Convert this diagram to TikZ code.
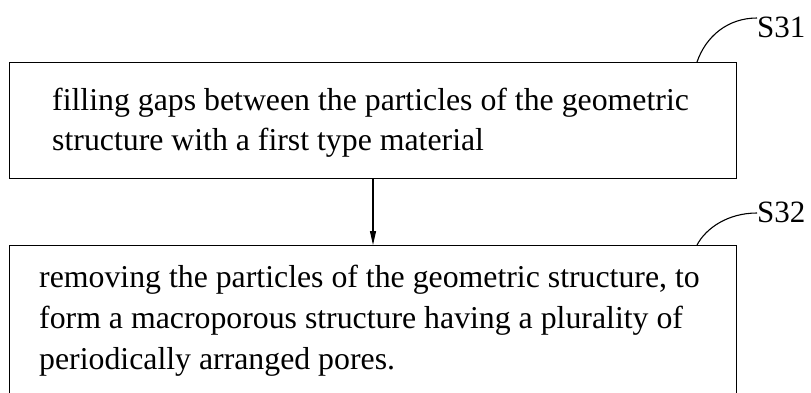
\documentclass[tikz,border=0pt]{standalone}
\usepackage{fontspec}
\setmainfont{Liberation Serif}
\usetikzlibrary{arrows.meta}
\begin{document}
\begin{tikzpicture}[x=1pt,y=-1pt,
  boxline/.style={draw=black,line width=1.2pt},
  txt/.style={anchor=base west,inner sep=0pt,font=\fontsize{31.8}{36}\selectfont},
  lbl/.style={anchor=base west,inner sep=0pt,font=\fontsize{31}{36}\selectfont},
  lead/.style={draw=black,line width=1.1pt}]
\useasboundingbox (0,0) rectangle (811,392);
\node[boxline,minimum width=727pt,minimum height=116pt,anchor=north west,inner sep=0pt] (b1) at (9,62) {};
\begin{scope}
\clip (0,0) rectangle (811,392);
\node[boxline,minimum width=727pt,minimum height=160pt,anchor=north west,inner sep=0pt] (b2) at (9,245) {};
\end{scope}
\node[txt] (t11) at (52,110) {filling gaps between the particles of the geometric};
\node[txt] (t12) at (52,150) {structure with a first type material};
\node[txt] (t21) at (39,287) {removing the particles of the geometric structure, to};
\node[txt] (t22) at (39,328) {form a macroporous structure having a plurality of};
\node[txt] (t23) at (39,369) {periodically arranged pores.};
\node[lbl] (s31) at (757,37) {S31};
\node[lbl] (s32) at (757,222) {S32};
\coordinate (a1) at (697,62);
\coordinate (a2) at (697,245);
\draw[lead] (a1) .. controls (706,36) and (728,18) .. (s31.west |- 0,18);
\draw[lead] (a2) .. controls (706,228) and (728,213) .. (s32.west |- 0,213);
\draw[line width=1.1pt,-{Triangle[length=14pt,width=6pt]}] (b1.south -| 373,0) -- (b2.north -| 373,0);
\end{tikzpicture}
\end{document}
